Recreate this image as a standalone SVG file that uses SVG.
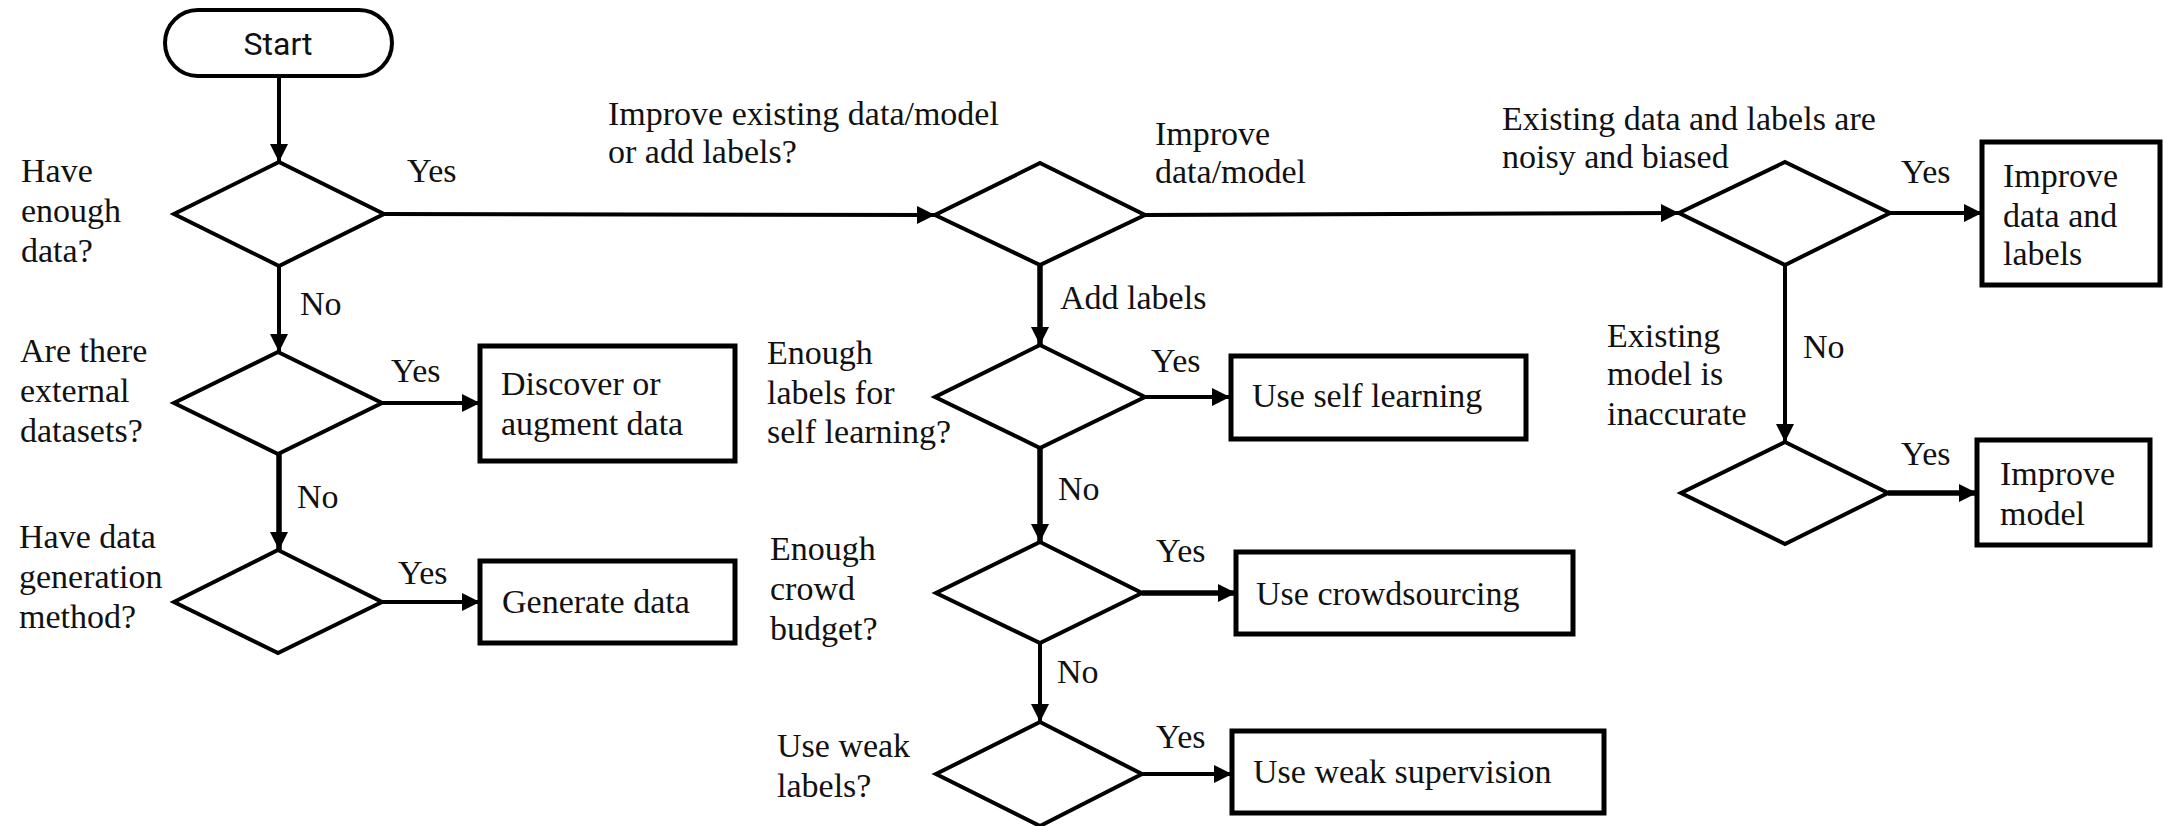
<svg xmlns="http://www.w3.org/2000/svg" width="2164" height="826" viewBox="0 0 2164 826">
  <style>
    .t { font-family: "Liberation Serif", "Times New Roman", serif; font-size: 34px; fill: #111; }
    .s { font-family: Roboto, "Liberation Sans", Arial, sans-serif; font-size: 32px; fill: #111; }
    .dia { fill: #fff; stroke: #000; stroke-width: 4; stroke-linejoin: miter; }
    .box { fill: #fff; stroke: #000; stroke-width: 5; }
    .pill { fill: #fff; stroke: #000; stroke-width: 4; }
    .c { fill: none; stroke: #000; stroke-width: 4; marker-end: url(#ah); }
    .ck { fill: none; stroke: #000; stroke-width: 5.5; marker-end: url(#ahk); }
  </style>
  <defs>
    <marker id="ah" viewBox="0 0 10 10" refX="10" refY="5" markerUnits="userSpaceOnUse" markerWidth="22" markerHeight="18" orient="auto">
      <path d="M0,0 L10,5 L0,10 Z" fill="#000"/>
    </marker>
    <marker id="ahk" viewBox="0 0 10 10" refX="10" refY="5" markerUnits="userSpaceOnUse" markerWidth="22" markerHeight="18" orient="auto">
      <path d="M0,0 L10,5 L0,10 Z" fill="#000"/>
    </marker>
  </defs>
  <rect width="2164" height="826" fill="#fff"/>

  <!-- connectors -->
  <g id="connectors">
    <path class="c" d="M279,77 L279,162"/>
    <path class="c" d="M384,214 L935,215"/>
    <path class="c" d="M279,266 L279,352"/>
    <path class="c" d="M382,403 L480,403"/>
    <path class="ck" d="M279,454 L279,550"/>
    <path class="c" d="M382,602 L480,602"/>
    <path class="c" d="M1145,215 L1679,213"/>
    <path class="ck" d="M1040,265 L1040,345"/>
    <path class="c" d="M1145,397 L1230,397"/>
    <path class="ck" d="M1040,448 L1040,542"/>
    <path class="ck" d="M1142,593 L1236,593"/>
    <path class="c" d="M1040,643 L1040,722"/>
    <path class="c" d="M1142,774 L1232,774"/>
    <path class="c" d="M1890,213 L1982,213"/>
    <path class="c" d="M1785,265 L1785,442"/>
    <path class="ck" d="M1888,493 L1977,493"/>
    <g id="edge-labels" class="t">
      <text x="407" y="182">Yes</text>
      <text x="300" y="315">No</text>
      <text x="391" y="382">Yes</text>
      <text x="297" y="508">No</text>
      <text x="398" y="584">Yes</text>
      <text x="1155" y="145">Improve</text>
      <text x="1155" y="183">data/model</text>
      <text x="1060" y="309">Add labels</text>
      <text x="1151" y="372">Yes</text>
      <text x="1058" y="500">No</text>
      <text x="1156" y="562">Yes</text>
      <text x="1057" y="683">No</text>
      <text x="1156" y="748">Yes</text>
      <text x="1901" y="183">Yes</text>
      <text x="1803" y="358">No</text>
      <text x="1901" y="465">Yes</text>
    </g>
  </g>

  <g id="start">
    <rect class="pill" x="165" y="10" width="227" height="66" rx="33"/>
    <text class="s" x="278" y="55" text-anchor="middle">Start</text>
  </g>

  <g id="q-enough-data">
    <polygon class="dia" points="279,162 384,214 279,266 174,214"/>
    <text class="t" x="21" y="182">Have</text>
    <text class="t" x="21" y="222">enough</text>
    <text class="t" x="21" y="262">data?</text>
  </g>

  <g id="q-external">
    <polygon class="dia" points="278,352 382,403 278,454 174,403"/>
    <text class="t" x="20" y="362">Are there</text>
    <text class="t" x="20" y="402">external</text>
    <text class="t" x="20" y="442">datasets?</text>
  </g>

  <g id="q-generation">
    <polygon class="dia" points="278,550 382,602 278,653 174,602"/>
    <text class="t" x="19" y="548">Have data</text>
    <text class="t" x="19" y="588">generation</text>
    <text class="t" x="19" y="628">method?</text>
  </g>

  <g id="discover">
    <rect class="box" x="480" y="346" width="255" height="115"/>
    <text class="t" x="501" y="395">Discover or</text>
    <text class="t" x="501" y="435">augment data</text>
  </g>

  <g id="generate">
    <rect class="box" x="480" y="561" width="255" height="82"/>
    <text class="t" x="502" y="613">Generate data</text>
  </g>

  <g id="q-improve-or-label">
    <polygon class="dia" points="1040,163 1145,215 1040,265 935,215"/>
    <text class="t" x="608" y="125">Improve existing data/model</text>
    <text class="t" x="608" y="163">or add labels?</text>
  </g>

  <g id="q-self-learning">
    <polygon class="dia" points="1040,345 1145,397 1040,448 935,397"/>
    <text class="t" x="767" y="364">Enough</text>
    <text class="t" x="767" y="404">labels for</text>
    <text class="t" x="767" y="443">self learning?</text>
  </g>

  <g id="q-crowd">
    <polygon class="dia" points="1040,542 1142,593 1040,643 936,593"/>
    <text class="t" x="770" y="560">Enough</text>
    <text class="t" x="770" y="600">crowd</text>
    <text class="t" x="770" y="640">budget?</text>
  </g>

  <g id="q-weak">
    <polygon class="dia" points="1040,722 1142,774 1040,826 936,774"/>
    <text class="t" x="777" y="757">Use weak</text>
    <text class="t" x="777" y="797">labels?</text>
  </g>

  <g id="self-learning">
    <rect class="box" x="1231" y="356" width="295" height="83"/>
    <text class="t" x="1252" y="407">Use self learning</text>
  </g>

  <g id="crowdsourcing">
    <rect class="box" x="1236" y="552" width="337" height="82"/>
    <text class="t" x="1256" y="605">Use crowdsourcing</text>
  </g>

  <g id="weak-supervision">
    <rect class="box" x="1232" y="731" width="372" height="82"/>
    <text class="t" x="1253" y="783">Use weak supervision</text>
  </g>

  <g id="q-noisy">
    <polygon class="dia" points="1785,162 1890,213 1785,265 1679,213"/>
    <text class="t" x="1502" y="130">Existing data and labels are</text>
    <text class="t" x="1502" y="168">noisy and biased</text>
  </g>

  <g id="q-inaccurate">
    <polygon class="dia" points="1785,442 1888,493 1785,544 1681,493"/>
    <text class="t" x="1607" y="347">Existing</text>
    <text class="t" x="1607" y="385">model is</text>
    <text class="t" x="1607" y="425">inaccurate</text>
  </g>

  <g id="improve-data-labels">
    <rect class="box" x="1982" y="142" width="178" height="143"/>
    <text class="t" x="2003" y="187">Improve</text>
    <text class="t" x="2003" y="227">data and</text>
    <text class="t" x="2003" y="265">labels</text>
  </g>

  <g id="improve-model">
    <rect class="box" x="1977" y="440" width="173" height="105"/>
    <text class="t" x="2000" y="485">Improve</text>
    <text class="t" x="2000" y="525">model</text>
  </g>
</svg>
